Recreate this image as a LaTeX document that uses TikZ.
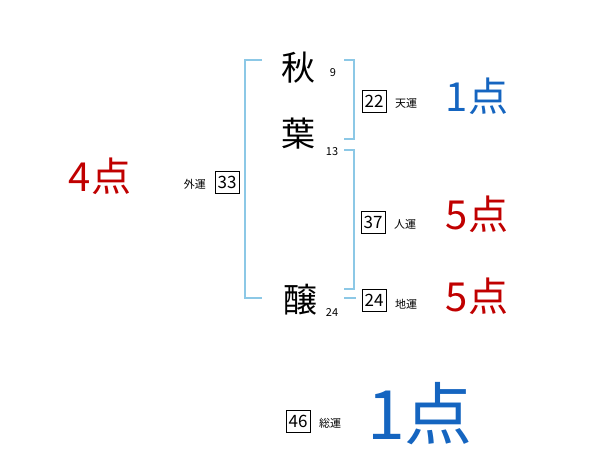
\documentclass[tikz,border=0pt]{standalone}
\usepackage{fontspec}
\setmainfont{Noto Sans CJK JP}
\definecolor{BracketBlue}{HTML}{8CC8E6}
\definecolor{ScoreBlue}{HTML}{1565C0}
\definecolor{ScoreRed}{HTML}{C00000}
\tikzset{
  kanji/.style={font=\fontsize{34}{36}\selectfont, inner sep=0pt},
  strokes/.style={font=\fontsize{11}{12}\selectfont, inner sep=0pt},
  unbox/.style={draw, line width=0.8pt, minimum width=24pt, minimum height=22pt, inner sep=1pt, font=\fontsize{17}{18}\selectfont},
  unlabel/.style={font=\fontsize{11}{12}\selectfont, inner sep=0pt},
  bracket/.style={BracketBlue, line width=1.4pt},
}
\begin{document}
\begin{tikzpicture}[x=1pt,y=-1pt]
  \useasboundingbox (0,0) rectangle (600,470);
  % name
  \node[kanji] (aki) at (298,68) {秋};
  \node[kanji] (ha) at (298,134) {葉};
  \node[kanji] (jo) at (300,300) {醸};
  \node[strokes] (akiN) at (333,73) {9};
  \node[strokes] (haN) at (332,152) {13};
  \node[strokes] (joN) at (332,313) {24};
  % brackets
  \draw[bracket] (262,60) -- (245,60) -- (245,298) -- (262,298);
  \draw[bracket] (344,60) -- (354,60) -- (354,139) -- (344,139);
  \draw[bracket] (344,150) -- (354,150) -- (354,289) -- (344,289);
  \draw[bracket] (344,298) -- (356,298);
  % fortunes
  \node[unbox] (ten) at (374,101) {22};
  \node[unlabel, anchor=west] (tenL) at (395,103) {天運};
  \node[unbox] (jin) at (373,222) {37};
  \node[unlabel, anchor=west] (jinL) at (394,224) {人運};
  \node[unbox] (chi) at (374,300) {24};
  \node[unlabel, anchor=west] (chiL) at (395,304) {地運};
  \node[unbox] (gai) at (227,182) {33};
  \node[unlabel, anchor=east] (gaiL) at (206,184) {外運};
  \node[unbox] (sou) at (298,421) {46};
  \node[unlabel, anchor=west] (souL) at (319,423) {総運};
  % scores
  \node[ScoreBlue, font=\fontsize{40}{42}\selectfont] (tenS) at (477,96) {1点};
  \node[ScoreRed, font=\fontsize{40}{42}\selectfont] (jinS) at (477,214) {5点};
  \node[ScoreRed, font=\fontsize{40}{42}\selectfont] (chiS) at (477,296) {5点};
  \node[ScoreRed, font=\fontsize{40}{42}\selectfont] (gaiS) at (100,176) {4点};
  \node[ScoreBlue, font=\fontsize{68}{70}\selectfont] (souS) at (420,414) {1点};
\end{tikzpicture}
\end{document}
